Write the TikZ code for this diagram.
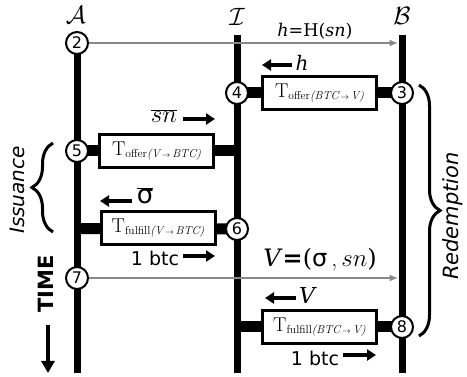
\documentclass[tikz,border=0pt]{standalone}
\usepackage[no-math]{fontspec}
\newfontfamily\dvsans{DejaVu Sans}
\newfontfamily\dvserif{DejaVu Serif}
\usetikzlibrary{arrows.meta,decorations.pathreplacing,backgrounds,calc}
\definecolor{msggray}{HTML}{888888}
\tikzset{
  life/.style={line width=7pt},
  conn/.style={line width=11pt},
  circ/.style={circle, draw, fill=white, line width=2pt, minimum size=22pt, inner sep=0pt,
    font=\dvsans\fontsize{16}{16}\selectfont},
  tbox/.style={draw, line width=3pt, fill=white, minimum width=114pt, minimum height=33pt, inner sep=0pt},
  msg/.style={draw=msggray, line width=2pt, -{Latex[length=9pt,width=7pt]}},
  sarr/.style={line width=4pt, -{Triangle[length=9pt,width=11pt]}},
  hdr/.style={inner sep=0pt},
  sans/.style={font=\dvsans\fontsize{19}{19}\selectfont},
  brc/.style={line width=3pt, decorate, decoration={brace, amplitude=21pt}},
}
\newcommand{\Tlab}[2]{{\fontsize{20}{20}\selectfont T}\raisebox{-0.45ex}{\fontsize{11.5}{11.5}\selectfont #1\textit{(#2)}}}
\newcommand{\rarr}{\,$\scriptstyle\rightarrow$\,}
\newcommand{\hdrtext}[1]{\scalebox{1.45}{\fontsize{17}{17}\selectfont$\mathcal{#1}$}}
\begin{document}
\begin{tikzpicture}[x=1pt,y=-1pt]
\useasboundingbox (0,0) rectangle (467,377);
% lifeline ends
\coordinate (At) at (77,40);  \coordinate (Ab) at (77,373);
\coordinate (It) at (237,35); \coordinate (Ib) at (237,373);
\coordinate (Bt) at (402,35); \coordinate (Bb) at (402,373);
% headers
\node[hdr] (LA) at (76,15) {\hdrtext{A}};
\node[hdr] (LI) at (237,16.5) {\hdrtext{I}};
\node[hdr] (LB) at (402,16) {\hdrtext{B}};
% boxes
\node[tbox] (b1) at (319.5,93)  {\Tlab{offer}{BTC\rarr V}};
\node[tbox] (b2) at (156.5,151) {\Tlab{offer}{V\rarr BTC}};
\node[tbox] (b3) at (158,228.5) {\Tlab{fulfill}{V\rarr BTC}};
\node[tbox] (b4) at (319.5,327) {\Tlab{fulfill}{BTC\rarr V}};
% circles
\node[circ] (c2) at (77,43) {2};
\node[circ] (c4) at (237,93) {4};
\node[circ] (c3) at (402,93) {3};
\node[circ] (c5) at (77,151) {5};
\node[circ] (c6) at (237,229) {6};
\node[circ] (c7) at (77,278) {7};
\node[circ] (c8) at (402,327) {8};
\begin{scope}[on background layer]
  \draw[life] (At) -- (Ab);
  \draw[life] (It) -- (Ib);
  \draw[life] (Bt) -- (Bb);
  \draw[conn] (c4.center) -- (c3.center);
  \draw[conn] (c5.center) -- (b2.center -| It);
  \draw[conn] (b3.center -| At) -- (c6.center);
  \draw[conn] (b4.center -| It) -- (c8.center);
\end{scope}
% gray messages
\draw[msg, shorten >=3.5pt] (c2) -- (c2 -| Bt);
\node[font=\dvserif\fontsize{17.5}{17.5}\selectfont] (mh) at (315,31) {\textit{h}=H(\textit{sn})};
\draw[msg, shorten >=3.5pt] (c7) -- (c7 -| Bt);
\node[font=\fontsize{24}{24}\selectfont] (mv) at (320,260) {{\dvserif\textit{V}\textbf{=}(}{\dvsans σ}\,,\,$sn${\dvserif)}};
% small arrows with labels
\node[font=\dvserif\fontsize{20}{20}\selectfont] (lh) at (302,63) {\textit{h}};
\draw[sarr] (292,65) -- (262,65);
\node[font=\fontsize{24}{24}\selectfont] (lsn) at (164,116) {$\overline{sn}$};
\draw[sarr] (183,119) -- (215,119);
\node[font=\dvsans\fontsize{26}{26}\selectfont] (lsig) at (145,196) {$\overline{\hbox{\dvsans σ}}$};
\draw[sarr] (132,201) -- (100,201);
\node[sans] (bt1) at (155,258) {1 btc};
\draw[sarr] (183,256) -- (215,256);
\node[font=\dvserif\fontsize{22}{22}\selectfont] (lV) at (308,295) {\textit{V}};
\draw[sarr] (296,298) -- (265,298);
\node[sans] (bt2) at (315,358) {1 btc};
\draw[sarr] (343,355) -- (376,355);
% braces
\coordinate (iss1) at (53,232); \coordinate (iss2) at (53,143);
\draw[brc] (iss1) -- (iss2);
\node[font=\dvsans\itshape\fontsize{20}{20}\selectfont, rotate=90] (iss) at (17,190) {Issuance};
\coordinate (red1) at (419,85); \coordinate (red2) at (419,336);
\draw[brc] (red1) -- (red2);
\node[font=\dvsans\itshape\fontsize{21}{21}\selectfont, rotate=90] (red) at (453,216) {Redemption};
% time
\node[font=\dvsans\bfseries\fontsize{21}{21}\selectfont, rotate=90] (time) at (46,284) {TIME};
\coordinate (t1) at (48,325); \coordinate (t2) at (48,373);
\draw[line width=4pt, -{Triangle[length=12pt,width=13pt]}] (t1) -- (t2);
\end{tikzpicture}
\end{document}
